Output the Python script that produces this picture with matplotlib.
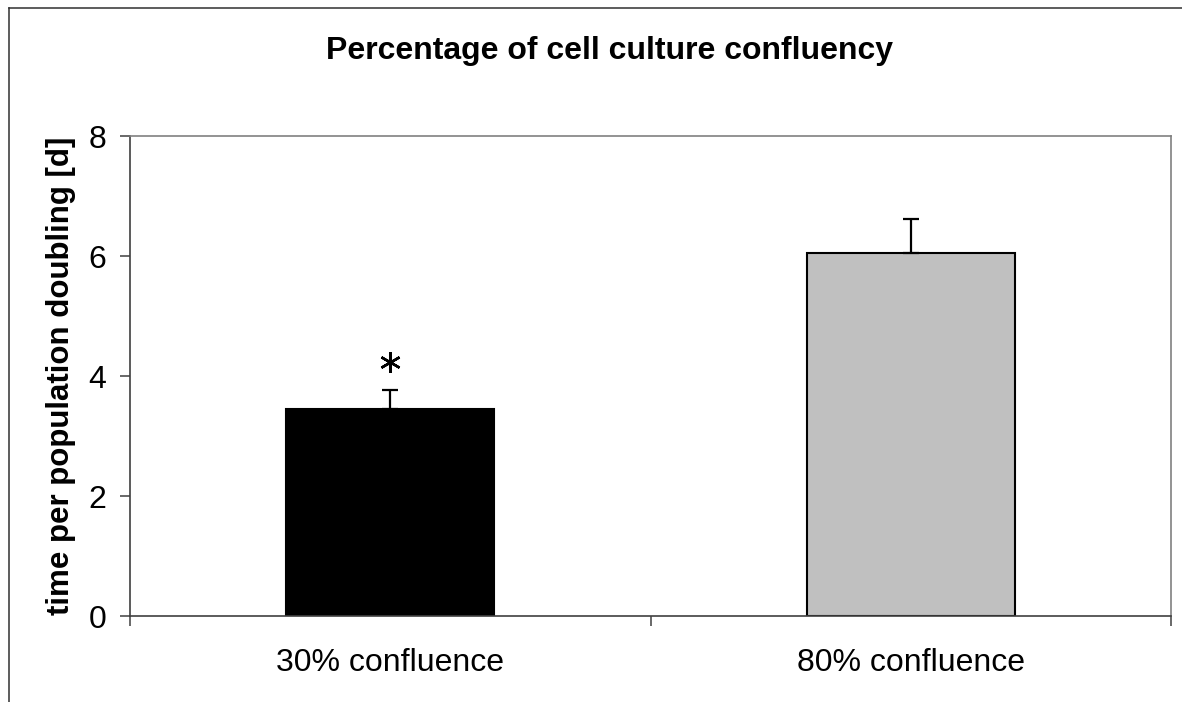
import matplotlib.pyplot as plt
from matplotlib.lines import Line2D

plt.rcParams['font.family'] = ['Liberation Sans', 'DejaVu Sans']

# Dữ liệu
categories = ['30% confluence', '80% confluence']
values = [3.45, 6.05]
errors = [0.32, 0.57]
colors = ['#000000', '#c0c0c0']
star_y = 4.23  # vị trí dấu *
yticks = [0, 2, 4, 6, 8]

fig = plt.figure(figsize=(11.82, 7.02), dpi=100)
ax = fig.add_axes([130 / 1182, 1 - 616 / 702, 1041 / 1182, 480 / 702])

x = [0.5, 1.5]
ax.bar(x, values, width=0.4, color=colors, edgecolor='black', linewidth=1.5, zorder=2)
ax.errorbar(x, values, yerr=[[0, 0], errors], fmt='none', ecolor='black',
            elinewidth=1.6, capsize=5.5, capthick=1.6, zorder=3)

# dấu sao trên cột thứ nhất
ax.plot([x[0]], [star_y], marker=(6, 2, 0), markersize=15, markeredgewidth=1.8,
        color='black', linestyle='none', zorder=4)

ax.set_xlim(0, 2)
ax.set_ylim(0, 8)
ax.set_yticks(yticks)
ax.set_xticks([0, 1, 2])
ax.set_xticklabels([])
ax.set_xticks(x, minor=True)
ax.set_xticklabels(categories, minor=True)

ax.tick_params(axis='y', direction='out', length=7, width=1.1, color='#404040',
               labelsize=23, pad=10)
ax.tick_params(axis='x', which='major', direction='out', length=7.5, width=1.1,
               color='#404040')
ax.tick_params(axis='x', which='minor', length=0, labelsize=23, pad=23)

for side in ['left', 'bottom']:
    ax.spines[side].set_color('#404040')
    ax.spines[side].set_linewidth(1.2)
for side in ['top', 'right']:
    ax.spines[side].set_color('#808080')
    ax.spines[side].set_linewidth(1.2)

ax.set_ylabel('time per population doubling [d]', fontsize=22.5, fontweight='bold',
              labelpad=9)

fig.text(609 / 1182, 1 - 59 / 702, 'Percentage of cell culture confluency',
         ha='center', va='baseline', fontsize=23, fontweight='bold')

# khung ngoài của biểu đồ
fig.add_artist(Line2D([8.5 / 1182, 8.5 / 1182], [0, 1 - 7.5 / 702], color='#303030',
                      linewidth=1.1, transform=fig.transFigure))
fig.add_artist(Line2D([8.5 / 1182, 1], [1 - 7.5 / 702, 1 - 7.5 / 702], color='#303030',
                      linewidth=1.1, transform=fig.transFigure))

plt.savefig('out.png', dpi=100)
